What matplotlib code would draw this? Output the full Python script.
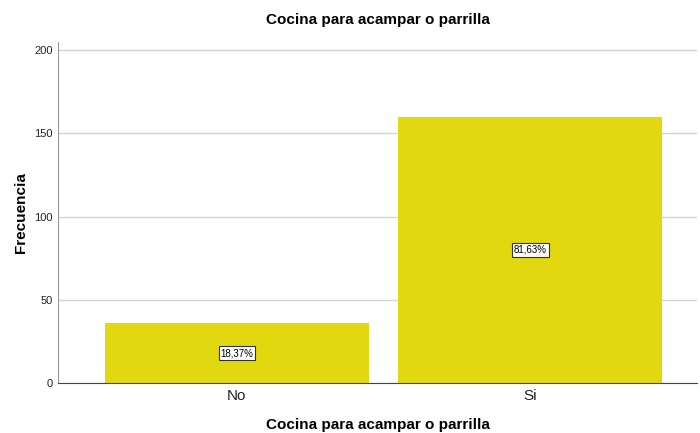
import matplotlib.pyplot as plt

plt.rcParams['font.family'] = ['Liberation Sans', 'DejaVu Sans']

categories = ['No', 'Si']
counts = [36, 160]
pct_labels = ['18,37%', '81,63%']
y_ticks = [0, 50, 100, 150, 200]

fig = plt.figure(figsize=(7, 4.33), dpi=100)
ax = fig.add_axes([0.083, 0.1155, 0.913, 0.7875])

x = range(len(categories))
bars = ax.bar(x, counts, width=0.9, color='#e2d80f', zorder=2)

for xi, c, lab in zip(x, counts, pct_labels):
    ax.text(xi, c / 2, lab, ha='center', va='center', fontsize=7, zorder=3,
            bbox=dict(boxstyle='square,pad=0.2', facecolor='white', edgecolor='#333333', linewidth=0.8))

ax.set_xlim(-0.61, 1.57)
ax.set_ylim(0, 205)
ax.set_yticks(y_ticks)
ax.set_yticklabels([str(t) for t in y_ticks], fontsize=8, color='#222222')
ax.set_xticks(list(x))
ax.set_xticklabels(categories, fontsize=11, color='#222222')
ax.tick_params(axis='both', length=0, pad=4)

ax.yaxis.grid(True, color='#d4d4d4', linewidth=1, zorder=0)
ax.set_axisbelow(True)

for s in ['top', 'right']:
    ax.spines[s].set_visible(False)
ax.spines['left'].set_color('#999999')
ax.spines['bottom'].set_color('#444444')

ax.set_title('Cocina para acampar o parrilla', fontsize=11, fontweight='bold', pad=13)
ax.set_xlabel('Cocina para acampar o parrilla', fontsize=11, fontweight='bold', labelpad=11)
ax.set_ylabel('Frecuencia', fontsize=11, fontweight='bold', labelpad=4)

fig.savefig('out.png', dpi=100)
